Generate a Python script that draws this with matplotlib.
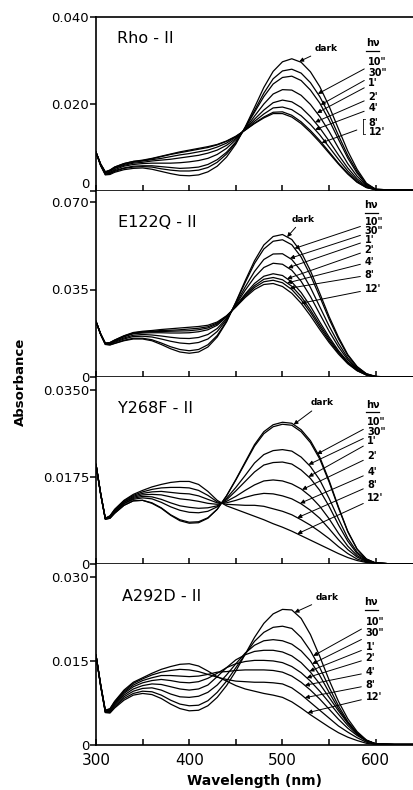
import matplotlib
matplotlib.use("Agg")
import matplotlib.pyplot as plt
import matplotlib.transforms as mtransforms
from matplotlib.ticker import MultipleLocator, FixedLocator
import numpy as np

plt.rcParams['font.family'] = ['DejaVu Sans']

# ---------------- data ----------------
wl = [300, 305, 310, 315, 320, 330, 340, 350, 360, 370, 380, 390, 400, 410, 420,
      430, 440, 450, 460, 470, 480, 490, 500, 510, 520, 530, 540, 550, 560, 570,
      580, 590, 600, 620, 640]

time_labels = ['10"', '30"', "1'", "2'", "4'", "8'", "12'"]

# Panel 1: Rho-II
rho_dark = [0.0089,0.0058,0.0037,0.0038,0.0043,0.0049,0.0052,0.0053,0.0050,0.0045,0.0040,0.0036,0.0035,0.0037,0.0044,0.0057,0.0078,0.0108,0.0147,0.0192,0.0238,0.0275,0.0297,0.0304,0.0296,0.0274,0.0240,0.0195,0.0143,0.0092,0.0050,0.0018,0.0004,0.0002,0.0002]
rho_10s = [0.0089,0.0059,0.0038,0.0040,0.0045,0.0052,0.0055,0.0056,0.0055,0.0051,0.0048,0.0046,0.0046,0.0048,0.0054,0.0066,0.0085,0.0111,0.0146,0.0185,0.0225,0.0258,0.0276,0.0280,0.0271,0.0249,0.0217,0.0176,0.0128,0.0082,0.0045,0.0016,0.0004,0.0002,0.0002]
rho_30s = [0.0089,0.0059,0.0039,0.0041,0.0047,0.0053,0.0057,0.0058,0.0058,0.0056,0.0054,0.0052,0.0053,0.0055,0.0061,0.0072,0.0089,0.0113,0.0145,0.0181,0.0217,0.0246,0.0261,0.0264,0.0254,0.0232,0.0202,0.0163,0.0119,0.0076,0.0041,0.0015,0.0004,0.0002,0.0002]
rho_1m = [0.0089,0.0060,0.0041,0.0043,0.0049,0.0057,0.0061,0.0063,0.0064,0.0064,0.0064,0.0065,0.0067,0.0070,0.0075,0.0084,0.0098,0.0118,0.0143,0.0172,0.0200,0.0223,0.0233,0.0232,0.0220,0.0199,0.0171,0.0137,0.0099,0.0063,0.0034,0.0013,0.0003,0.0002,0.0002]
rho_2m = [0.0089,0.0061,0.0042,0.0045,0.0052,0.0059,0.0064,0.0066,0.0069,0.0071,0.0073,0.0076,0.0079,0.0082,0.0087,0.0094,0.0105,0.0121,0.0142,0.0165,0.0186,0.0203,0.0209,0.0205,0.0192,0.0171,0.0145,0.0115,0.0083,0.0053,0.0028,0.0011,0.0003,0.0002,0.0002]
rho_4m = [0.0089,0.0061,0.0043,0.0047,0.0053,0.0061,0.0066,0.0069,0.0072,0.0075,0.0079,0.0083,0.0086,0.0090,0.0094,0.0101,0.0110,0.0124,0.0141,0.0160,0.0177,0.0191,0.0193,0.0187,0.0173,0.0153,0.0129,0.0101,0.0073,0.0046,0.0024,0.0009,0.0003,0.0002,0.0002]
rho_8m = [0.0089,0.0062,0.0044,0.0048,0.0055,0.0063,0.0068,0.0070,0.0074,0.0079,0.0084,0.0088,0.0092,0.0096,0.0100,0.0106,0.0114,0.0125,0.0140,0.0156,0.0170,0.0181,0.0182,0.0174,0.0159,0.0139,0.0116,0.0090,0.0064,0.0041,0.0021,0.0008,0.0003,0.0002,0.0002]
rho_12m = [0.0089,0.0062,0.0044,0.0048,0.0055,0.0063,0.0068,0.0071,0.0075,0.0080,0.0085,0.0090,0.0094,0.0098,0.0102,0.0107,0.0115,0.0126,0.0140,0.0155,0.0168,0.0178,0.0178,0.0170,0.0155,0.0135,0.0112,0.0087,0.0062,0.0039,0.0020,0.0008,0.0003,0.0002,0.0002]

# Panel 2: E122Q-II
e122_dark = [0.0222,0.0170,0.0130,0.0128,0.0134,0.0145,0.0152,0.0152,0.0145,0.0130,0.0113,0.0100,0.0095,0.0100,0.0120,0.0160,0.0220,0.0300,0.0385,0.0465,0.0528,0.0562,0.0570,0.0550,0.0500,0.0425,0.0335,0.0242,0.0160,0.0090,0.0042,0.0013,0.0002,0.0000,0.0000]
e122_10s = [0.0222,0.0170,0.0131,0.0129,0.0135,0.0147,0.0155,0.0155,0.0149,0.0136,0.0121,0.0110,0.0105,0.0110,0.0129,0.0166,0.0223,0.0298,0.0378,0.0454,0.0512,0.0543,0.0549,0.0529,0.0480,0.0407,0.0321,0.0232,0.0153,0.0086,0.0040,0.0013,0.0002,0.0000,0.0000]
e122_30s = [0.0222,0.0171,0.0132,0.0132,0.0139,0.0152,0.0162,0.0163,0.0160,0.0152,0.0143,0.0136,0.0133,0.0138,0.0152,0.0182,0.0229,0.0293,0.0360,0.0422,0.0470,0.0492,0.0493,0.0470,0.0424,0.0358,0.0281,0.0204,0.0135,0.0076,0.0036,0.0011,0.0002,0.0000,0.0000]
e122_1m = [0.0222,0.0171,0.0133,0.0134,0.0142,0.0156,0.0167,0.0170,0.0168,0.0164,0.0159,0.0155,0.0154,0.0158,0.0170,0.0194,0.0234,0.0289,0.0347,0.0399,0.0438,0.0455,0.0451,0.0427,0.0383,0.0322,0.0252,0.0183,0.0121,0.0069,0.0032,0.0010,0.0002,0.0000,0.0000]
e122_2m = [0.0222,0.0172,0.0134,0.0136,0.0145,0.0161,0.0173,0.0176,0.0177,0.0177,0.0176,0.0176,0.0177,0.0181,0.0189,0.0207,0.0240,0.0284,0.0332,0.0374,0.0403,0.0413,0.0406,0.0380,0.0338,0.0283,0.0220,0.0160,0.0106,0.0061,0.0029,0.0009,0.0001,0.0000,0.0000]
e122_4m = [0.0222,0.0172,0.0134,0.0137,0.0146,0.0162,0.0175,0.0179,0.0181,0.0182,0.0183,0.0184,0.0185,0.0189,0.0196,0.0212,0.0242,0.0283,0.0327,0.0365,0.0391,0.0398,0.0389,0.0363,0.0322,0.0268,0.0209,0.0152,0.0101,0.0058,0.0027,0.0009,0.0001,0.0000,0.0000]
e122_8m = [0.0222,0.0172,0.0135,0.0137,0.0147,0.0164,0.0176,0.0181,0.0183,0.0186,0.0187,0.0189,0.0192,0.0195,0.0201,0.0216,0.0243,0.0281,0.0323,0.0358,0.0381,0.0387,0.0377,0.0350,0.0309,0.0258,0.0200,0.0145,0.0097,0.0056,0.0026,0.0008,0.0001,0.0000,0.0000]
e122_12m = [0.0222,0.0172,0.0135,0.0138,0.0148,0.0165,0.0178,0.0183,0.0186,0.0190,0.0193,0.0196,0.0199,0.0202,0.0207,0.0220,0.0245,0.0280,0.0318,0.0350,0.0370,0.0374,0.0362,0.0335,0.0295,0.0245,0.0190,0.0138,0.0092,0.0053,0.0025,0.0008,0.0001,0.0000,0.0000]

# Panel 3: Y268F-II
y268_dark = [0.0200,0.0140,0.0090,0.0092,0.0102,0.0118,0.0127,0.0128,0.0122,0.0112,0.0098,0.0087,0.0082,0.0083,0.0092,0.0110,0.0137,0.0170,0.0205,0.0240,0.0266,0.0280,0.0285,0.0283,0.0270,0.0248,0.0215,0.0168,0.0115,0.0066,0.0030,0.0010,0.0002,0.0000,0.0000]
y268_10s = [0.0200,0.0140,0.0090,0.0092,0.0102,0.0118,0.0127,0.0128,0.0123,0.0113,0.0099,0.0089,0.0084,0.0085,0.0093,0.0110,0.0137,0.0169,0.0203,0.0237,0.0262,0.0276,0.0281,0.0279,0.0266,0.0244,0.0211,0.0165,0.0113,0.0065,0.0030,0.0010,0.0002,0.0000,0.0000]
y268_30s = [0.0200,0.0141,0.0091,0.0093,0.0104,0.0121,0.0130,0.0133,0.0131,0.0124,0.0115,0.0108,0.0104,0.0103,0.0106,0.0115,0.0132,0.0154,0.0178,0.0203,0.0220,0.0228,0.0230,0.0227,0.0215,0.0196,0.0169,0.0132,0.0091,0.0052,0.0024,0.0008,0.0002,0.0000,0.0000]
y268_1m = [0.0200,0.0141,0.0091,0.0094,0.0105,0.0122,0.0132,0.0136,0.0135,0.0130,0.0123,0.0117,0.0114,0.0112,0.0113,0.0117,0.0129,0.0147,0.0166,0.0185,0.0199,0.0204,0.0205,0.0201,0.0189,0.0172,0.0148,0.0116,0.0079,0.0046,0.0021,0.0007,0.0002,0.0000,0.0000]
y268_2m = [0.0200,0.0141,0.0091,0.0095,0.0106,0.0124,0.0134,0.0139,0.0140,0.0139,0.0135,0.0131,0.0129,0.0126,0.0122,0.0120,0.0126,0.0136,0.0148,0.0159,0.0167,0.0169,0.0167,0.0161,0.0151,0.0136,0.0116,0.0091,0.0062,0.0036,0.0017,0.0006,0.0002,0.0000,0.0000]
y268_4m = [0.0200,0.0141,0.0091,0.0096,0.0108,0.0125,0.0136,0.0142,0.0145,0.0146,0.0144,0.0142,0.0141,0.0137,0.0130,0.0123,0.0123,0.0128,0.0134,0.0139,0.0142,0.0141,0.0137,0.0131,0.0121,0.0108,0.0092,0.0071,0.0049,0.0029,0.0014,0.0005,0.0002,0.0000,0.0000]
y268_8m = [0.0200,0.0142,0.0092,0.0096,0.0109,0.0127,0.0138,0.0145,0.0150,0.0153,0.0154,0.0154,0.0153,0.0148,0.0138,0.0125,0.0120,0.0119,0.0118,0.0118,0.0116,0.0111,0.0106,0.0099,0.0089,0.0078,0.0065,0.0051,0.0035,0.0021,0.0010,0.0004,0.0002,0.0000,0.0000]
y268_12m = [0.0200,0.0142,0.0092,0.0097,0.0110,0.0128,0.0140,0.0148,0.0155,0.0160,0.0164,0.0166,0.0166,0.0160,0.0146,0.0128,0.0117,0.0110,0.0103,0.0096,0.0089,0.0081,0.0074,0.0066,0.0057,0.0048,0.0039,0.0030,0.0021,0.0013,0.0007,0.0003,0.0001,0.0000,0.0000]

# Panel 4: A292D-II
a292_dark = [0.0160,0.0105,0.0058,0.0057,0.0066,0.0080,0.0089,0.0092,0.0090,0.0083,0.0073,0.0065,0.0061,0.0062,0.0070,0.0085,0.0106,0.0132,0.0162,0.0192,0.0217,0.0234,0.0242,0.0241,0.0226,0.0197,0.0158,0.0116,0.0078,0.0047,0.0024,0.0009,0.0002,0.0001,0.0001]
a292_10s = [0.0160,0.0105,0.0058,0.0058,0.0068,0.0083,0.0092,0.0096,0.0095,0.0089,0.0080,0.0073,0.0070,0.0071,0.0079,0.0094,0.0114,0.0138,0.0162,0.0185,0.0201,0.0210,0.0212,0.0208,0.0192,0.0168,0.0138,0.0103,0.0070,0.0042,0.0022,0.0008,0.0002,0.0001,0.0001]
a292_30s = [0.0160,0.0106,0.0059,0.0060,0.0070,0.0086,0.0096,0.0101,0.0102,0.0098,0.0091,0.0086,0.0085,0.0087,0.0094,0.0107,0.0125,0.0145,0.0164,0.0178,0.0186,0.0188,0.0186,0.0180,0.0168,0.0150,0.0124,0.0094,0.0065,0.0040,0.0020,0.0008,0.0002,0.0001,0.0001]
a292_1m = [0.0160,0.0106,0.0060,0.0061,0.0072,0.0089,0.0100,0.0106,0.0109,0.0108,0.0104,0.0100,0.0098,0.0100,0.0107,0.0122,0.0138,0.0152,0.0161,0.0167,0.0169,0.0169,0.0166,0.0159,0.0147,0.0130,0.0109,0.0085,0.0061,0.0039,0.0021,0.0008,0.0002,0.0001,0.0001]
a292_2m = [0.0160,0.0107,0.0060,0.0062,0.0074,0.0092,0.0104,0.0111,0.0115,0.0117,0.0115,0.0112,0.0111,0.0113,0.0119,0.0128,0.0138,0.0145,0.0149,0.0151,0.0151,0.0150,0.0147,0.0140,0.0129,0.0114,0.0096,0.0076,0.0055,0.0035,0.0019,0.0008,0.0002,0.0001,0.0001]
a292_4m = [0.0160,0.0107,0.0061,0.0063,0.0076,0.0094,0.0107,0.0115,0.0120,0.0124,0.0124,0.0123,0.0122,0.0123,0.0126,0.0130,0.0131,0.0133,0.0134,0.0134,0.0134,0.0133,0.0130,0.0123,0.0112,0.0098,0.0082,0.0064,0.0046,0.0030,0.0017,0.0007,0.0002,0.0001,0.0001]
a292_8m = [0.0160,0.0108,0.0062,0.0064,0.0077,0.0096,0.0110,0.0118,0.0125,0.0130,0.0133,0.0135,0.0134,0.0131,0.0126,0.0121,0.0117,0.0114,0.0113,0.0112,0.0112,0.0111,0.0109,0.0102,0.0090,0.0076,0.0062,0.0048,0.0034,0.0023,0.0013,0.0005,0.0001,0.0001,0.0001]
a292_12m = [0.0160,0.0108,0.0062,0.0065,0.0078,0.0098,0.0112,0.0120,0.0128,0.0135,0.0140,0.0144,0.0145,0.0141,0.0132,0.0122,0.0114,0.0106,0.0100,0.0096,0.0092,0.0089,0.0085,0.0077,0.0066,0.0054,0.0043,0.0032,0.0022,0.0014,0.0008,0.0003,0.0001,0.0001,0.0001]

panel_names = ["Rho - II", "E122Q - II", "Y268F - II", "A292D - II"]
panel_ylim_top = [0.0400, 0.0744, 0.0376, 0.0323]
panel_yticks = [[0, 0.020, 0.040], [0, 0.035, 0.070], [0, 0.0175, 0.0350], [0, 0.015, 0.030]]
panel_yticklabels = [["0", "0.020", "0.040"], ["0", "0.035", "0.070"],
                     ["0", "0.0175", "0.0350"], ["0", "0.015", "0.030"]]
xticks = [300, 400, 500, 600]
xticklabels = ["300", "400", "500", "600"]

curves = [
    [rho_dark, rho_10s, rho_30s, rho_1m, rho_2m, rho_4m, rho_8m, rho_12m],
    [e122_dark, e122_10s, e122_30s, e122_1m, e122_2m, e122_4m, e122_8m, e122_12m],
    [y268_dark, y268_10s, y268_30s, y268_1m, y268_2m, y268_4m, y268_8m, y268_12m],
    [a292_dark, a292_10s, a292_30s, a292_1m, a292_2m, a292_4m, a292_8m, a292_12m],
]

# annotation layout (label positions in data units, arrow target wavelengths)
label_x = [592, 588, 591, 589]
label_y = [
    [0.0297, 0.0271, 0.0248, 0.0216, 0.0191, 0.0157, 0.0136],
    [0.0620, 0.0584, 0.0548, 0.0508, 0.0460, 0.0408, 0.0352],
    [0.0285, 0.0265, 0.0247, 0.0217, 0.0185, 0.0159, 0.0133],
    [0.0220, 0.0200, 0.0175, 0.0155, 0.0130, 0.0107, 0.0086],
]
target_wl = [
    [538, 541, 537, 535, 535, 542, 542],
    [513, 508, 506, 505, 505, 508, 520],
    [537, 528, 528, 521, 519, 516, 516],
    [533, 532, 529, 526, 524, 524, 527],
]
dark_label_pos = [(547, 0.0327), (522, 0.0632), (543, 0.0324), (548, 0.0263)]
dark_target_wl = [518, 505, 512, 513]
hv_pos = [(597, 0.0340), (595, 0.0688), (597, 0.0320), (595, 0.0255)]
title_pos = [(0.066, 0.879), (0.069, 0.833), (0.069, 0.834), (0.082, 0.818)]

# ---------------- figure ----------------
fig = plt.figure(figsize=(4.13, 7.90), dpi=100)
W, H = 413.0, 790.0
ax_px = [(17, 191), (191, 377), (377, 564), (564, 745)]
left_px, right_px = 96, 413

arrow_kw = dict(arrowstyle='-|>', lw=0.7, color='black', mutation_scale=6,
                shrinkA=1, shrinkB=0)

axes = []
for i in range(4):
    top, bot = ax_px[i]
    ax = fig.add_axes([left_px / W, 1 - bot / H, (right_px - left_px) / W, (bot - top) / H])
    axes.append(ax)
    for c in curves[i]:
        ax.plot(wl, c, color='black', lw=0.9, solid_joinstyle='round')
    ax.set_xlim(300, 640)
    ax.set_ylim(0, panel_ylim_top[i])
    ax.spines['right'].set_visible(False)
    if i > 0:
        ax.spines['top'].set_visible(False)
    for s in ['left', 'bottom', 'top']:
        ax.spines[s].set_linewidth(1.2)
    ax.yaxis.set_major_locator(FixedLocator(panel_yticks[i]))
    ax.set_yticklabels(panel_yticklabels[i], fontsize=9.5)
    ax.tick_params(axis='y', direction='out', length=4, width=1.1, pad=1)
    ax.xaxis.set_major_locator(FixedLocator(xticks))
    ax.xaxis.set_minor_locator(MultipleLocator(50))
    ax.tick_params(axis='x', which='both', direction='in', length=4.5, width=1.1,
                   top=False)
    if i == 3:
        ax.set_xticklabels(xticklabels, fontsize=11)
        ax.tick_params(axis='x', pad=6)
    else:
        ax.tick_params(axis='x', labelbottom=False)
    if i == 0:
        ax.get_yticklabels()[0].set_va('bottom')

    # panel title
    ax.text(title_pos[i][0], title_pos[i][1], panel_names[i], transform=ax.transAxes,
            fontsize=11.5, ha='left', va='center')

    # dark label + arrow
    d = curves[i][0]
    tx = dark_target_wl[i]
    ax.annotate('dark', xy=(tx, np.interp(tx, wl, d)), xytext=dark_label_pos[i],
                fontsize=6.5, fontweight='bold', ha='center', va='center',
                arrowprops=arrow_kw)

    # h nu header with underline
    hx, hy = hv_pos[i]
    ax.text(hx, hy, 'hν', fontsize=7, fontweight='bold', ha='center', va='center')
    ul = mtransforms.offset_copy(ax.transData, fig=fig, y=-5.5, units='points')
    ax.plot([hx - 7, hx + 7], [hy, hy], color='black', lw=0.9, transform=ul,
            clip_on=False)

    # time labels with leader arrows
    if i == 0:
        for k in range(5):
            tw = target_wl[i][k]
            ax.annotate(time_labels[k],
                        xy=(tw, np.interp(tw, wl, curves[i][k + 1])),
                        xytext=(label_x[i], label_y[i][k]),
                        fontsize=7, fontweight='bold', ha='left', va='center',
                        arrowprops=arrow_kw)
        # bracketed 8' / 12'
        tw = target_wl[i][5]
        ymid = 0.5 * (label_y[i][5] + label_y[i][6])
        ax.annotate('[', xy=(tw, np.interp(tw, wl, curves[i][6])),
                    xytext=(label_x[i] - 0.5, ymid),
                    fontsize=13, fontweight='light', ha='right', va='center',
                    arrowprops=arrow_kw)
        ax.text(label_x[i] + 0.5, label_y[i][5], time_labels[5], fontsize=7,
                fontweight='bold', ha='left', va='center')
        ax.text(label_x[i] + 0.5, label_y[i][6], time_labels[6], fontsize=7,
                fontweight='bold', ha='left', va='center')
    else:
        for k in range(7):
            tw = target_wl[i][k]
            ax.annotate(time_labels[k],
                        xy=(tw, np.interp(tw, wl, curves[i][k + 1])),
                        xytext=(label_x[i], label_y[i][k]),
                        fontsize=7, fontweight='bold', ha='left', va='center',
                        arrowprops=arrow_kw)

axes[3].set_xlabel('Wavelength (nm)', fontsize=10, fontweight='bold', labelpad=4)
fig.text(20 / W, 1 - 382 / H, 'Absorbance', rotation=90, fontsize=9.5,
         fontweight='bold', ha='center', va='center')

fig.savefig('out.png', dpi=100)
